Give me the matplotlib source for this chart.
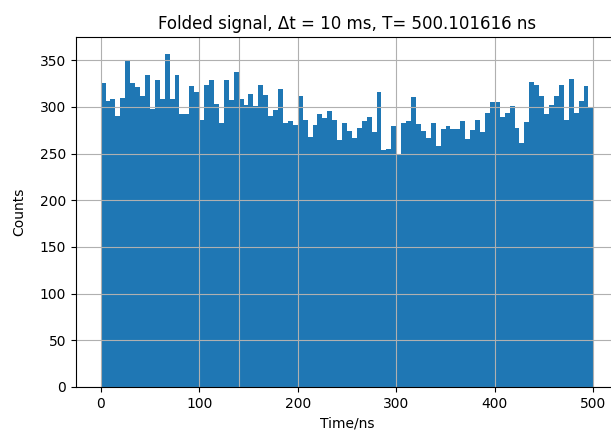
import numpy as np
import matplotlib
matplotlib.use("Agg")
import matplotlib.pyplot as plt

# folded signal, 100 bins of 5 ns over one period
edges = np.linspace(0, 500, 101)
counts = [326, 306, 309, 290, 310, 349, 326, 321, 312, 334,
          298, 329, 309, 357, 309, 334, 292, 292, 322, 316,
          286, 324, 329, 303, 283, 329, 308, 337, 309, 302,
          314, 301, 324, 313, 290, 297, 319, 283, 285, 281,
          312, 286, 268, 281, 293, 288, 296, 286, 265, 283,
          274, 267, 278, 285, 289, 273, 316, 254, 255, 280,
          250, 283, 285, 311, 282, 274, 267, 283, 258, 276,
          280, 276, 276, 285, 266, 275, 286, 273, 294, 305,
          305, 289, 294, 301, 277, 261, 284, 327, 324, 312,
          292, 302, 312, 324, 286, 330, 294, 306, 322, 300]
centers = (edges[:-1] + edges[1:]) / 2
marker_t = 140

fig = plt.figure(figsize=(6.11, 4.37), dpi=100)
ax = fig.add_axes([76/611, 50/437, 542/611, 350/437])
ax.hist(centers, bins=edges, weights=counts, color='#1f77b4')
ax.axvline(marker_t, color='#b0b0b0', linewidth=0.8)
ax.grid(True)
ax.set_xlim(-25, 525)
ax.set_ylim(0, 375)
ax.set_xlabel('Time/ns')
ax.set_ylabel('Counts', labelpad=10)
ax.set_title('Folded signal, Δt = 10 ms, T= 500.101616 ns')
fig.savefig('out.png', dpi=100)
